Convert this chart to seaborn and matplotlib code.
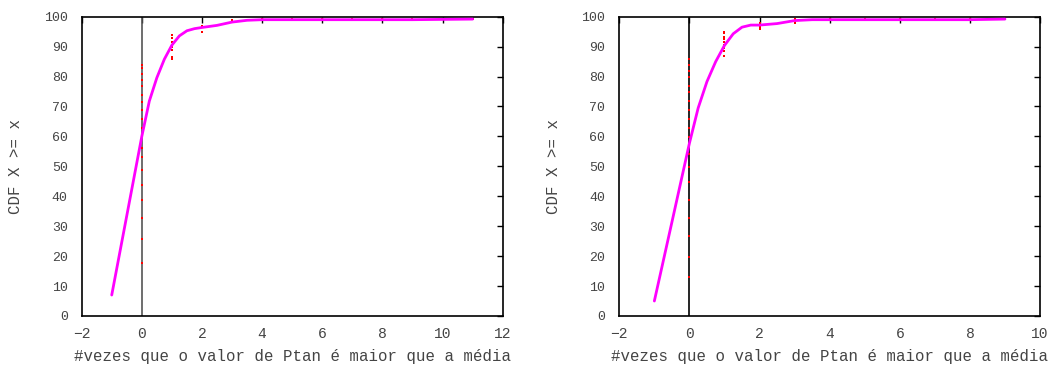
import numpy as np
import pandas as pd
import matplotlib
matplotlib.use("Agg")
import matplotlib.pyplot as plt
import seaborn as sns

# smoothed CDF curves
curve1_x = [-1, -0.5, 0, 0.25, 0.5, 0.75, 1, 1.25, 1.5, 1.75, 2, 2.5, 3, 3.5, 4, 5, 6, 7, 8, 9, 10, 11]
curve1_y = [7, 33.5, 60, 71.8, 79.6, 85.8, 90.5, 93.6, 95.3, 96.0, 96.4, 97.1, 98.2, 98.8, 99.0, 99.0, 99.0, 99.0, 99.0, 99.0, 99.1, 99.2]

curve2_x = [-1, -0.5, 0, 0.25, 0.5, 0.75, 1, 1.25, 1.5, 1.75, 2, 2.5, 3, 3.5, 4, 5, 6, 7, 8, 9]
curve2_y = [5, 31.3, 57.7, 69.5, 78.3, 85.0, 90.4, 94.3, 96.5, 97.2, 97.2, 97.7, 98.7, 99.0, 99.0, 99.0, 99.0, 99.0, 99.0, 99.2]

# raw points
pts1_x = [0] * 19 + [1] * 8 + [2] * 3 + [3, 4, 5, 6, 7, 8, 9, 10, 11]
pts1_y = [83.7, 82.7, 80.8, 78.8, 76.8, 73.8, 71.6, 68.8, 65.8, 62.9, 59.9, 56.0, 53.0,
          48.8, 43.8, 38.8, 32.6, 25.8, 17.8,
          93.9, 93.0, 91.6, 90.5, 90.0, 88.9, 86.6, 85.7,
          97.0, 96.4, 94.8,
          98.9, 99.1, 99.1, 99.1, 99.1, 99.1, 99.1, 99.1, 99.1]

pts2_x = [0] * 20 + [1] * 9 + [2] * 4 + [3] * 3 + [4, 5, 6, 7, 8, 9]
pts2_y = [85.7, 83.7, 81.8, 79.7, 76.8, 74.7, 71.8, 68.8, 65.8, 62.9, 59.9, 56.9, 54.0,
          49.9, 44.8, 38.8, 32.6, 26.7, 19.8, 12.9,
          95.0, 94.4, 93.3, 92.4, 91.6, 90.5, 89.4, 88.6, 86.9,
          98.0, 97.2, 96.4, 95.8,
          99.1, 98.7, 98.0,
          99.1, 99.1, 99.1, 99.1, 99.1, 99.1]

xticks1 = list(range(-2, 13, 2))
xticks2 = list(range(-2, 11, 2))
yticks = list(range(0, 101, 10))

xlabel = "#vezes que o valor de Ptan é maior que a média"
ylabel = "CDF X >= x"

sns.set_theme(style="white")
plt.rcParams['font.family'] = ['Liberation Mono', 'DejaVu Sans Mono']
plt.rcParams['font.size'] = 9.5

fig = plt.figure(figsize=(10.55, 3.67), dpi=100)
ax1 = fig.add_axes([0.0774, 0.139, 0.3991, 0.8155])
ax2 = fig.add_axes([0.587, 0.139, 0.3988, 0.8155])

panels = [
    (ax1, curve1_x, curve1_y, pts1_x, pts1_y, xticks1, '#555555'),
    (ax2, curve2_x, curve2_y, pts2_x, pts2_y, xticks2, 'black'),
]

txt = '#444444'
for ax, cx, cy, px, py, xt, vcol in panels:
    ax.axvline(0, color=vcol, lw=1.2, zorder=1)
    df_pts = pd.DataFrame({'x': px, 'y': py})
    sns.scatterplot(data=df_pts, x='x', y='y', ax=ax, color='red', marker='s',
                    s=3, linewidth=0, zorder=2)
    df_curve = pd.DataFrame({'x': cx, 'y': cy})
    sns.lineplot(data=df_curve, x='x', y='y', ax=ax, color='#ff00ff', lw=2,
                 sort=False, estimator=None, zorder=3)
    ax.set_xlim(xt[0], xt[-1])
    ax.set_ylim(0, 100)
    ax.set_xticks(xt)
    ax.set_yticks(yticks)
    ax.set_xticklabels([str(v).replace('-', '\u2212') for v in xt])
    ax.tick_params(direction='in', length=4, width=1, top=True, right=True,
                   colors='black', labelcolor=txt)
    ax.tick_params(axis='x', labelsize=10.5, pad=8)
    ax.tick_params(axis='y', labelsize=9.5, pad=10)
    for sp in ax.spines.values():
        sp.set_color('black')
        sp.set_linewidth(1.2)
    ax.set_xlabel(xlabel, color=txt, fontsize=11.3, labelpad=6)
    ax.set_ylabel(ylabel, color=txt, fontsize=11.3, labelpad=15)

fig.savefig("out.png", dpi=100)
